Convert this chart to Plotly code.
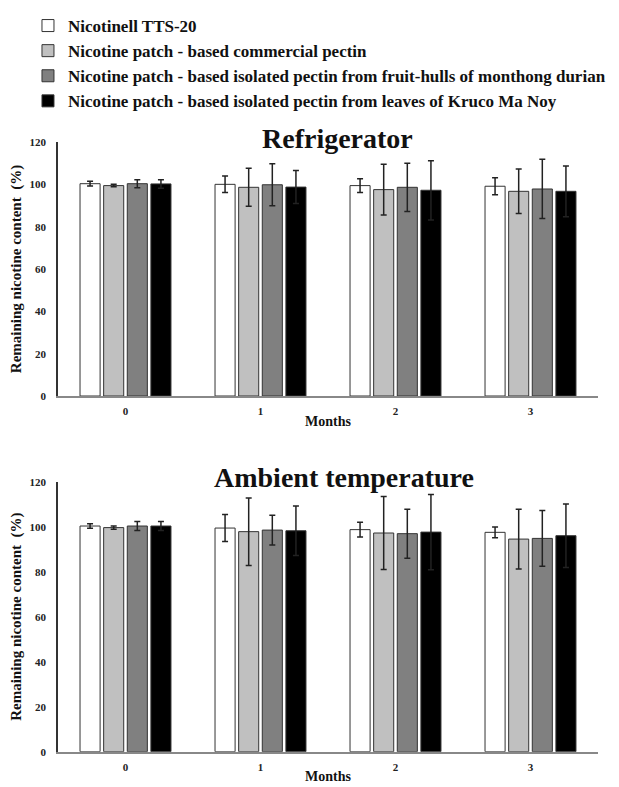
import plotly.graph_objects as go

months = ["0", "1", "2", "3"]
series_names = [
    "Nicotinell TTS-20",
    "Nicotine patch - based commercial pectin",
    "Nicotine patch - based isolated pectin from fruit-hulls of monthong durian",
    "Nicotine patch - based isolated pectin from leaves of Kruco Ma Noy",
]
colors = ["#ffffff", "#c0c0c0", "#808080", "#000000"]

# Refrigerator: mean and SD
fridge_tts = [100.3, 100.0, 99.4, 99.1]
fridge_tts_sd = [1.1, 3.9, 3.2, 4.0]
fridge_comm = [99.4, 98.6, 97.5, 96.7]
fridge_comm_sd = [0.6, 9.0, 12.0, 10.5]
fridge_durian = [100.3, 99.8, 98.6, 97.8]
fridge_durian_sd = [1.9, 9.9, 11.4, 14.0]
fridge_kruco = [100.2, 98.7, 97.2, 96.7]
fridge_kruco_sd = [2.0, 7.8, 14.0, 12.0]

# Ambient temperature: mean and SD
amb_tts = [100.3, 99.4, 98.7, 97.5]
amb_tts_sd = [1.0, 6.0, 3.3, 2.4]
amb_comm = [99.6, 97.8, 97.2, 94.5]
amb_comm_sd = [0.7, 15.0, 16.2, 13.3]
amb_durian = [100.3, 98.5, 96.9, 94.8]
amb_durian_sd = [2.0, 6.6, 10.9, 12.4]
amb_kruco = [100.3, 98.2, 97.6, 96.0]
amb_kruco_sd = [2.0, 11.0, 16.7, 14.1]

fridge = [(fridge_tts, fridge_tts_sd), (fridge_comm, fridge_comm_sd),
          (fridge_durian, fridge_durian_sd), (fridge_kruco, fridge_kruco_sd)]
amb = [(amb_tts, amb_tts_sd), (amb_comm, amb_comm_sd),
       (amb_durian, amb_durian_sd), (amb_kruco, amb_kruco_sd)]

SERIF = "Liberation Serif"
fig = go.Figure()

for i, (name, col) in enumerate(zip(series_names, colors)):
    vals, sd = fridge[i]
    fig.add_trace(go.Bar(
        x=months, y=vals, name=name, marker=dict(color=col, line=dict(color="#333333", width=1)),
        error_y=dict(type="data", array=sd, color="#222222", thickness=1.5, width=3),
        xaxis="x", yaxis="y", legendgroup=name, showlegend=True,
    ))
for i, (name, col) in enumerate(zip(series_names, colors)):
    vals, sd = amb[i]
    fig.add_trace(go.Bar(
        x=months, y=vals, name=name, marker=dict(color=col, line=dict(color="#333333", width=1)),
        error_y=dict(type="data", array=sd, color="#222222", thickness=1.5, width=3),
        xaxis="x2", yaxis="y2", legendgroup=name, showlegend=False,
    ))

# page body has an 8px margin; work in screen pixels and convert
OFF = 8
W = 611.0
H = 779.0

def fx(p):
    return (p - OFF) / W

def fy(p):
    return 1 - (p - OFF) / H

xdom = [fx(58), fx(598)]
ydom1 = [fy(396), fy(142)]
ydom2 = [fy(751.7), fy(481.7)]

tickfont = dict(family=SERIF, size=11, color="#222222", weight="bold")
ytitlefont = dict(family=SERIF, size=15, color="#111111", weight="bold")
xtitlefont = dict(family=SERIF, size=14, color="#111111", weight="bold")

def xax(anchor):
    return dict(domain=xdom, anchor=anchor, type="category", showline=True, linecolor="#888888",
                linewidth=1.5, ticks="", showgrid=False, tickfont=tickfont, zeroline=False,
                ticklabelstandoff=4,
                title=dict(text="Months", font=xtitlefont, standoff=0))

def yax(anchor, dom):
    return dict(domain=dom, anchor=anchor, range=[0, 120], dtick=20, showline=True,
                linecolor="#333333", linewidth=1.5, ticks="", showgrid=False, tickfont=tickfont,
                zeroline=False, ticklabelstandoff=8,
                title=dict(text="Remaining nicotine content  (%)", font=ytitlefont, standoff=4))

fig.update_layout(
    width=int(W), height=int(H),
    margin=dict(l=0, r=0, t=0, b=0, autoexpand=False),
    paper_bgcolor="white", plot_bgcolor="white",
    barmode="group", bargap=0.3, bargroupgap=0.15,
    xaxis=xax("y"), yaxis=yax("x", ydom1),
    xaxis2=xax("y2"), yaxis2=yax("x2", ydom2),
    legend=dict(x=0.0327, y=1.0, xanchor="left", yanchor="top", traceorder="normal",
                font=dict(family=SERIF, size=17, color="#111111", weight="bold"),
                itemwidth=30, tracegroupgap=0, bgcolor="rgba(0,0,0,0)"),
    annotations=[
        dict(text="Refrigerator", x=fx(337), y=fy(138), xref="paper", yref="paper",
             yanchor="middle", xanchor="center",
             showarrow=False, font=dict(family=SERIF, size=28, color="#111111", weight="bold")),
        dict(text="Ambient temperature", x=fx(344), y=fy(477), xref="paper", yref="paper",
             yanchor="middle", xanchor="center",
             showarrow=False, font=dict(family=SERIF, size=28, color="#111111", weight="bold")),
    ],
)

fig.write_html("out.html")
